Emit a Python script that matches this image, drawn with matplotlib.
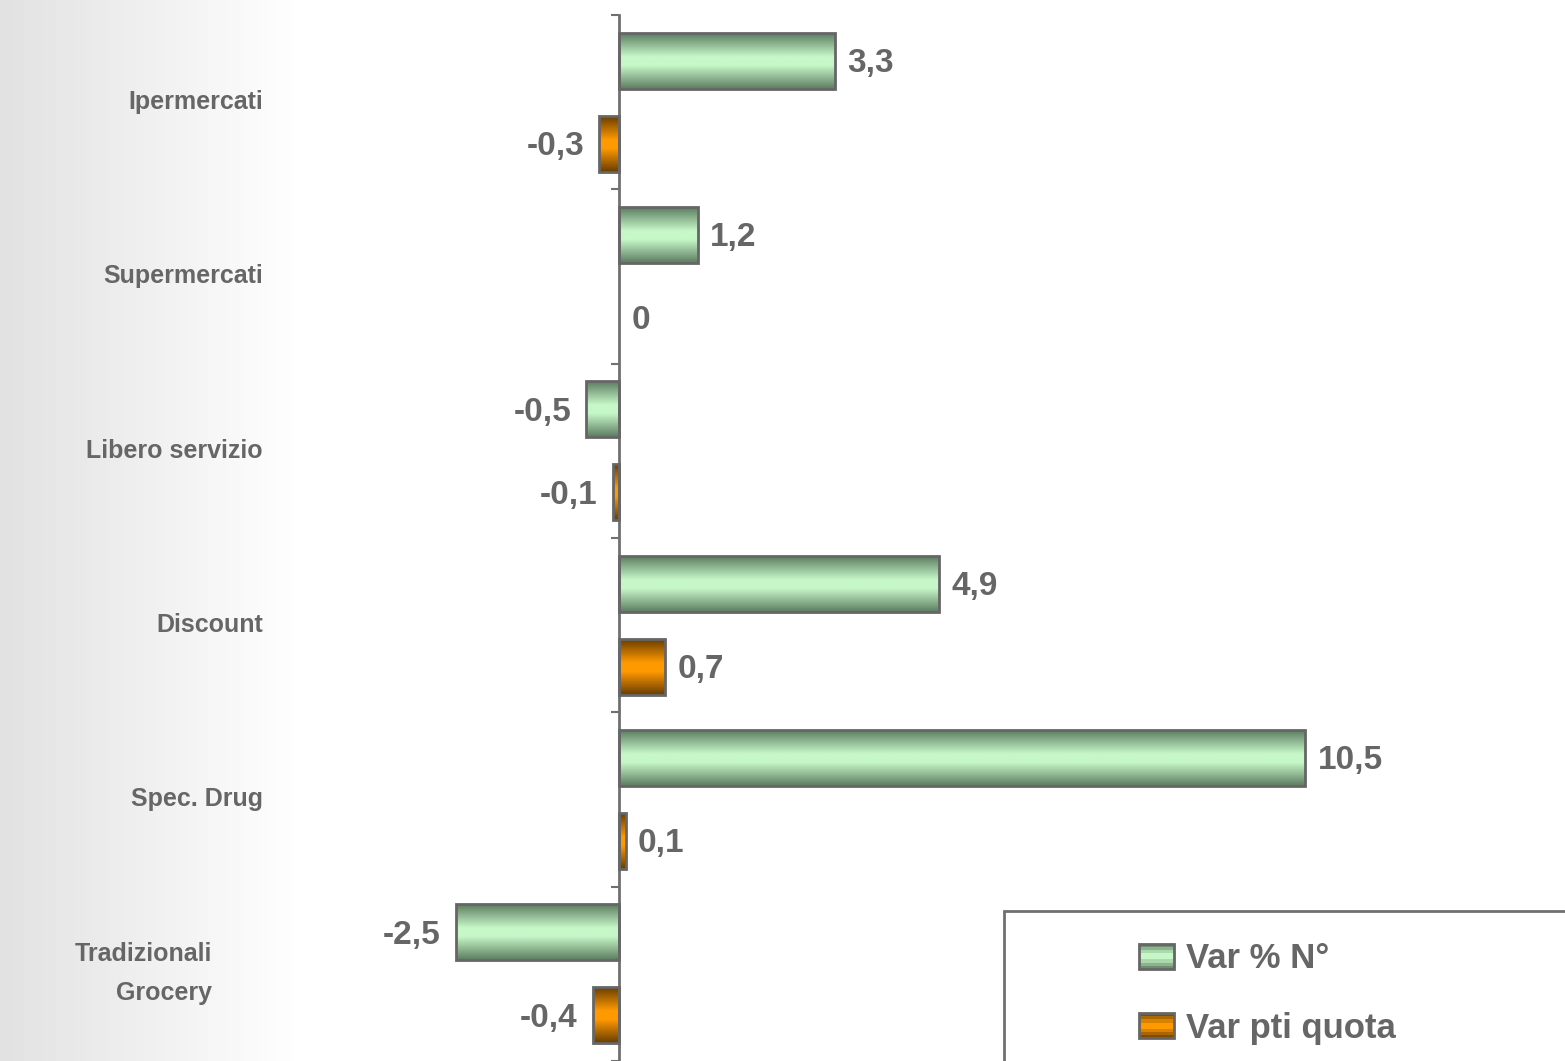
import numpy as np
import matplotlib
matplotlib.use("Agg")
import matplotlib.pyplot as plt
from matplotlib.colors import LinearSegmentedColormap
from matplotlib.patches import Rectangle
from matplotlib.legend_handler import HandlerBase
from matplotlib.transforms import blended_transform_factory

# dati
categorie = ["Ipermercati", "Supermercati", "Libero servizio", "Discount",
             "Spec. Drug", "Tradizionali\nGrocery"]
var_num = [3.3, 1.2, -0.5, 4.9, 10.5, -2.5]
var_quota = [-0.3, 0, -0.1, 0.7, 0.1, -0.4]
nomi_serie = ["Var % N°", "Var pti quota"]

plt.rcParams['font.family'] = ['Liberation Sans', 'DejaVu Sans']
grigio = "#666666"

verde = LinearSegmentedColormap.from_list("verde", [(0, "#5e7e62"), (0.42, "#c6f7c8"),
                                                   (0.58, "#c6f7c8"), (1, "#5e7e62")])
arancio = LinearSegmentedColormap.from_list("arancio", [(0, "#6a3e00"), (0.42, "#ff9900"),
                                                       (0.58, "#ff9900"), (1, "#6a3e00")])

fig = plt.figure(figsize=(15.65, 10.61), dpi=100)

# sfondo sfumato a sinistra
bg = fig.add_axes([0, 0, 1, 1], zorder=-1)
xs = np.linspace(0, 1, 400)
grad = np.clip(xs / 0.19, 0, 1)
bg.imshow(grad[np.newaxis, :], cmap=LinearSegmentedColormap.from_list("bg", ["#e2e2e2", "#ffffff"]),
          aspect='auto', extent=[0, 1, 0, 1])
bg.set_axis_off()

ax = fig.add_axes([0, 0, 1, 0.9859])
ax.patch.set_alpha(0)

n = len(categorie)
centri = np.arange(n)[::-1] + 0.5
h = 0.32
off = 0.238


def barra_sfumata(y, val, cmap):
    if val == 0:
        return
    x0, x1 = min(0, val), max(0, val)
    img = np.linspace(0, 1, 60)[:, np.newaxis]
    ax.imshow(img, cmap=cmap, aspect='auto', extent=[x0, x1, y - h / 2, y + h / 2],
              zorder=2, interpolation='bilinear')
    ax.add_patch(Rectangle((x0, y - h / 2), x1 - x0, h, facecolor='none',
                           edgecolor=grigio, linewidth=2.0, zorder=3))


def etichetta(y, val):
    testo = ("%g" % val).replace('.', ',')
    if val >= 0:
        ax.annotate(testo, (val, y), xytext=(9, -2), textcoords='offset points',
                    ha='left', va='center', fontsize=24, fontweight='bold', color=grigio)
    else:
        ax.annotate(testo, (val, y), xytext=(-11, -2), textcoords='offset points',
                    ha='right', va='center', fontsize=24, fontweight='bold', color=grigio)


for i in range(n):
    yv = centri[i] + off
    yo = centri[i] - off
    barra_sfumata(yv, var_num[i], verde)
    barra_sfumata(yo, var_quota[i], arancio)
    etichetta(yv, var_num[i])
    etichetta(yo, var_quota[i])

ax.set_xlim(-9.47, 14.47)
ax.set_ylim(0, n)

# asse verticale con tacche tra le categorie
for s in ['top', 'right', 'bottom']:
    ax.spines[s].set_visible(False)
ax.spines['left'].set_position(('data', 0))
ax.spines['left'].set_color("#707070")
ax.spines['left'].set_linewidth(2)
ax.set_xticks([])
ax.set_yticks(np.arange(n + 1))
ax.set_yticklabels([])
ax.tick_params(axis='y', direction='out', length=6, width=1.5, color="#707070")

# nomi delle categorie
tr = blended_transform_factory(fig.transFigure, ax.transData)
for i, c in enumerate(categorie):
    xpos = 263 / 1565 if "\n" not in c else 212 / 1565
    ax.text(xpos, centri[i], c, transform=tr, ha='right', va='center', multialignment='right',
            fontsize=18, fontweight='bold', color=grigio, linespacing=1.8)


# legenda con quadratini a strisce
class HandlerStrisce(HandlerBase):
    def __init__(self, cmap):
        super().__init__()
        self.cmap = cmap

    def create_artists(self, legend, orig_handle, xdescent, ydescent, width, height, fontsize, trans):
        art = []
        k = 8
        for j in range(k):
            art.append(Rectangle((-xdescent, -ydescent + height * j / k), width, height / k,
                                 facecolor=self.cmap(1 - (j + 0.5) / k), edgecolor='none', transform=trans))
        art.append(Rectangle((-xdescent, -ydescent), width, height, facecolor='none',
                             edgecolor=grigio, linewidth=2, transform=trans))
        return art


h1 = Rectangle((0, 0), 1, 1)
h2 = Rectangle((0, 0), 1, 1)
fig.patches.append(Rectangle((1004 / 1565, -0.01), 0.4, 0.1514, transform=fig.transFigure,
                             facecolor='white', edgecolor="#707070", linewidth=2, zorder=4))
leg = fig.legend([h1, h2], nomi_serie, loc='upper left', bbox_to_anchor=(1122 / 1565, 1 - 925 / 1061),
                 frameon=False, handler_map={h1: HandlerStrisce(verde), h2: HandlerStrisce(arancio)},
                 prop={'size': 25, 'weight': 'bold'}, handlelength=1.0, handleheight=0.75,
                 handletextpad=0.35, labelspacing=1.05, borderpad=0)
leg.set_zorder(5)
for t in leg.get_texts():
    t.set_color(grigio)

fig.savefig("out.png", dpi=100)
